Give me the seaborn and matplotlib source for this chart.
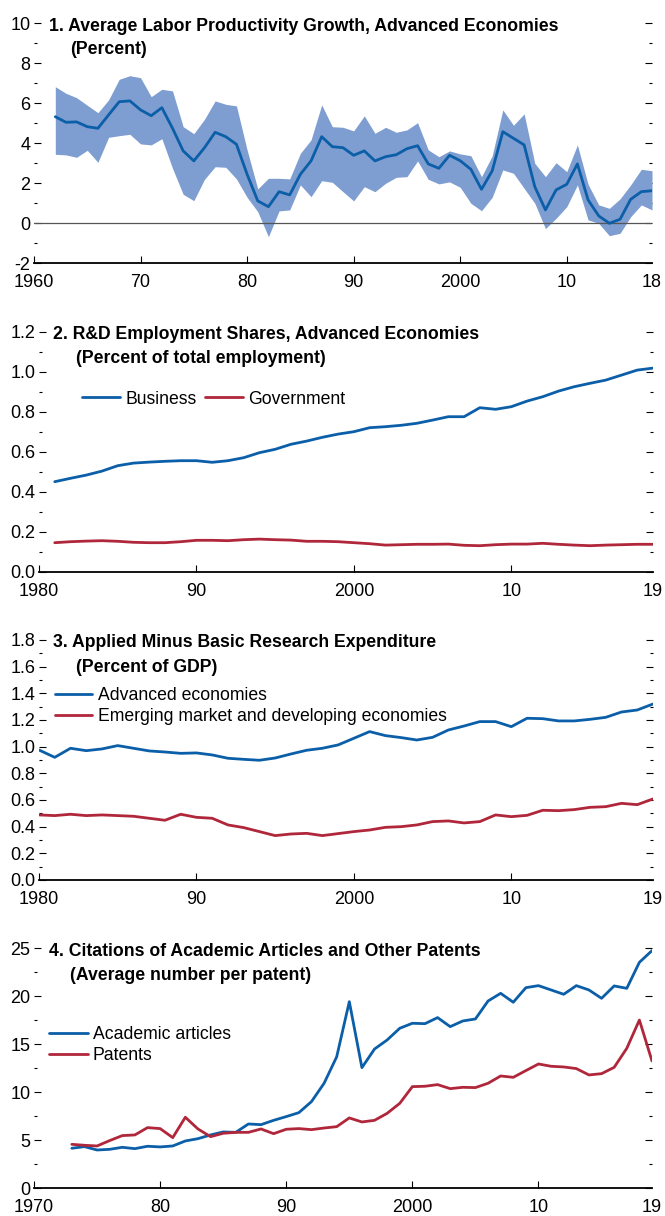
import numpy as np
import pandas as pd
import matplotlib
matplotlib.use("Agg")
import matplotlib.pyplot as plt
import seaborn as sns
from matplotlib import font_manager as fm
from matplotlib.ticker import MultipleLocator, FormatStrFormatter

# ---------------------------------------------------------------------------
# Data
# ---------------------------------------------------------------------------
# 1. Average labor productivity growth, advanced economies (percent)
prod_years = list(range(1962, 2019))
prod_mean = [5.33, 5.05, 5.07, 4.83, 4.75, 5.42, 6.08, 6.12, 5.67, 5.38,
             5.78, 4.75, 3.62, 3.12, 3.78, 4.55, 4.33, 3.95, 2.45, 1.12,
             0.83, 1.58, 1.42, 2.45, 3.12, 4.33, 3.83, 3.78, 3.40, 3.62,
             3.12, 3.33, 3.43, 3.73, 3.88, 2.97, 2.75, 3.40, 3.13, 2.70,
             1.70, 2.62, 4.58, 4.25, 3.92, 1.83, 0.67, 1.67, 1.95, 2.97,
             1.17, 0.37, 0.00, 0.20, 1.20, 1.58, 1.63]
prod_upper = [6.83, 6.50, 6.28, 5.90, 5.53, 6.17, 7.20, 7.38, 7.28, 6.33,
              6.70, 6.62, 4.83, 4.48, 5.20, 6.12, 5.95, 5.87, 3.67, 1.72,
              2.25, 2.25, 2.22, 3.50, 4.17, 5.92, 4.83, 4.80, 4.62, 5.37,
              4.50, 4.80, 4.55, 4.67, 5.03, 3.67, 3.33, 3.62, 3.47, 3.38,
              2.33, 3.37, 5.67, 4.90, 5.47, 3.00, 2.33, 3.03, 2.58, 3.92,
              1.95, 0.92, 0.75, 1.22, 1.92, 2.70, 2.63]
prod_lower = [3.45, 3.42, 3.30, 3.65, 3.05, 4.30, 4.38, 4.45, 3.97, 3.92,
              4.23, 2.75, 1.45, 1.13, 2.20, 2.83, 2.80, 2.22, 1.30, 0.58,
              -0.67, 0.62, 0.67, 1.92, 1.33, 2.13, 2.05, 1.58, 1.12, 1.83,
              1.58, 2.00, 2.30, 2.33, 3.12, 2.20, 1.97, 2.07, 1.80, 1.00,
              0.63, 1.30, 2.67, 2.50, 1.75, 1.00, -0.27, 0.25, 0.83, 1.92,
              0.17, 0.00, -0.62, -0.50, 0.33, 0.92, 0.67]

# 2. R&D employment shares, advanced economies (percent of total employment)
rd_years = list(range(1981, 2020))
rd_business = [0.450, 0.467, 0.483, 0.503, 0.530, 0.543, 0.548, 0.552, 0.555, 0.555,
               0.547, 0.555, 0.570, 0.595, 0.612, 0.637, 0.653, 0.672, 0.688, 0.700,
               0.720, 0.725, 0.732, 0.742, 0.758, 0.775, 0.775, 0.820, 0.812, 0.825,
               0.853, 0.875, 0.903, 0.925, 0.942, 0.958, 0.983, 1.008, 1.018]
rd_government = [0.145, 0.150, 0.153, 0.155, 0.152, 0.147, 0.145, 0.145, 0.150, 0.157,
                 0.157, 0.155, 0.160, 0.163, 0.160, 0.158, 0.152, 0.152, 0.150, 0.145,
                 0.140, 0.133, 0.135, 0.137, 0.137, 0.138, 0.132, 0.130, 0.135, 0.138,
                 0.138, 0.142, 0.137, 0.133, 0.130, 0.133, 0.135, 0.137, 0.137]

# 3. Applied minus basic research expenditure (percent of GDP)
res_years = list(range(1980, 2020))
res_advanced = [0.975, 0.920, 0.988, 0.970, 0.983, 1.008, 0.988, 0.968, 0.960, 0.950,
                0.953, 0.938, 0.913, 0.905, 0.898, 0.915, 0.945, 0.973, 0.988, 1.013,
                1.063, 1.113, 1.083, 1.068, 1.050, 1.070, 1.125, 1.155, 1.188, 1.188,
                1.150, 1.213, 1.210, 1.193, 1.193, 1.205, 1.220, 1.260, 1.275, 1.320]
res_emerging = [0.488, 0.483, 0.493, 0.483, 0.488, 0.483, 0.478, 0.463, 0.448, 0.493,
                0.470, 0.463, 0.413, 0.393, 0.363, 0.333, 0.345, 0.350, 0.333, 0.348,
                0.363, 0.375, 0.395, 0.400, 0.413, 0.438, 0.443, 0.428, 0.438, 0.488,
                0.475, 0.485, 0.523, 0.520, 0.528, 0.545, 0.550, 0.575, 0.565, 0.608]

# 4. Citations of academic articles and other patents (average number per patent)
cit_years = list(range(1973, 2020))
cit_academic = [4.17, 4.34, 3.99, 4.06, 4.27, 4.13, 4.38, 4.31, 4.41, 4.93,
                5.17, 5.56, 5.87, 5.83, 6.70, 6.63, 7.08, 7.47, 7.88, 9.03,
                10.94, 13.70, 19.44, 12.57, 14.51, 15.45, 16.67, 17.19, 17.15, 17.78,
                16.84, 17.43, 17.64, 19.51, 20.31, 19.38, 20.90, 21.11, 20.66, 20.21,
                21.11, 20.66, 19.79, 21.08, 20.83, 23.54, 24.76]
cit_patents = [4.58, 4.48, 4.41, 4.97, 5.49, 5.56, 6.32, 6.22, 5.28, 7.40,
               6.18, 5.38, 5.73, 5.83, 5.83, 6.18, 5.69, 6.15, 6.22, 6.11,
               6.28, 6.42, 7.33, 6.91, 7.08, 7.81, 8.85, 10.59, 10.63, 10.80,
               10.38, 10.52, 10.49, 10.94, 11.70, 11.56, 12.26, 12.95, 12.71, 12.64,
               12.47, 11.81, 11.94, 12.60, 14.58, 17.53, 13.26]

# Axis ticks and labels
p1_xticks, p1_xlabels = [1960, 1970, 1980, 1990, 2000, 2010, 2018], ["1960", "70", "80", "90", "2000", "10", "18"]
p23_xticks, p23_xlabels = [1980, 1990, 2000, 2010, 2019], ["1980", "90", "2000", "10", "19"]
p4_xticks, p4_xlabels = [1970, 1980, 1990, 2000, 2010, 2019], ["1970", "80", "90", "2000", "10", "19"]

# ---------------------------------------------------------------------------
# Style
# ---------------------------------------------------------------------------
BLUE = "#0B5EA8"
RED = "#B0263A"
BAND = "#7E9DD0"

sns.set_style("ticks")
available = {f.name for f in fm.fontManager.ttflist}
FONT = next(f for f in ["Liberation Sans Narrow", "Liberation Sans", "DejaVu Sans"]
            if f in available or f == "DejaVu Sans")
plt.rcParams["font.family"] = [FONT, "DejaVu Sans"]
plt.rcParams["axes.unicode_minus"] = True
plt.rcParams["text.color"] = "black"

TICK_FS = 13
TITLE_FS = 12.7
LEG_FS = 12.7

W, H = 665, 1216
fig = plt.figure(figsize=(W / 100, H / 100), dpi=100)
fig.patch.set_facecolor("white")


def px(x, y):
    return (x / W, 1 - y / H)


def add_axes(left, right, top, bottom):
    return fig.add_axes([left / W, 1 - bottom / H, (right - left) / W, (bottom - top) / H])


def style_axes(ax, xlim, ylim, xticks, xlabels, ymajor, yminor, yfmt):
    ax.set_xlim(xlim)
    ax.set_ylim(ylim)
    for side in ["left", "right", "top"]:
        ax.spines[side].set_visible(False)
    ax.spines["bottom"].set_linewidth(1.3)
    ax.spines["bottom"].set_color("black")
    ax.set_xticks(xticks)
    ax.set_xticklabels(xlabels)
    ax.yaxis.set_major_locator(MultipleLocator(ymajor))
    ax.yaxis.set_minor_locator(MultipleLocator(yminor))
    ax.yaxis.set_major_formatter(FormatStrFormatter(yfmt))
    ax.tick_params(axis="x", which="major", direction="in", length=5, width=0.8,
                   pad=8, labelsize=TICK_FS, colors="black")
    ax.tick_params(axis="x", which="minor", length=0)
    ax.tick_params(axis="y", which="both", direction="in", left=True, right=True,
                   labelleft=True, labelright=False, width=0.8, pad=2.5,
                   labelsize=TICK_FS, colors="black")
    ax.tick_params(axis="y", which="major", length=5)
    ax.tick_params(axis="y", which="minor", length=2)
    ax.xaxis.get_major_ticks()[-1].tick1line.set_visible(False)
    ax.set_xlabel("")
    ax.set_ylabel("")
    ax.set_facecolor("white")


def title(lines):
    for (x, y, s) in lines:
        fig.text(*px(x, y), s, fontsize=TITLE_FS, fontweight="bold",
                 ha="left", va="baseline", color="black")


def legend(ax, x, y, ncol, hl, tp, cs=0.5, ls=0.23):
    ax.legend(loc="center left", bbox_to_anchor=px(x, y), bbox_transform=fig.transFigure,
              frameon=False, ncol=ncol, borderpad=0, borderaxespad=0,
              handlelength=hl, handletextpad=tp, columnspacing=cs, labelspacing=ls,
              fontsize=LEG_FS, labelcolor="black")


LW = 2.0

# ---------------------------------------------------------------------------
# Panel 1
# ---------------------------------------------------------------------------
ax1 = add_axes(34, 652, 23.3, 263.3)
df1 = pd.DataFrame({"year": prod_years, "mean": prod_mean,
                    "upper": prod_upper, "lower": prod_lower})
ax1.fill_between(df1["year"], df1["lower"], df1["upper"], color=BAND, linewidth=0, zorder=1)
ax1.axhline(0, color="#555555", linewidth=0.9, zorder=2)
sns.lineplot(data=df1, x="year", y="mean", ax=ax1, color=BLUE, linewidth=LW, zorder=3)
style_axes(ax1, (1960, 2018), (-2, 10), p1_xticks, p1_xlabels, 2, 1, "%d")
title([(49, 30.7, "1. Average Labor Productivity Growth, Advanced Economies"),
       (70, 54.3, "(Percent)")])

# ---------------------------------------------------------------------------
# Panel 2
# ---------------------------------------------------------------------------
ax2 = add_axes(39, 653, 331.7, 571.7)
df2 = pd.DataFrame({"year": rd_years, "Business": rd_business, "Government": rd_government})
sns.lineplot(data=df2, x="year", y="Business", ax=ax2, color=BLUE, linewidth=LW, label="Business")
sns.lineplot(data=df2, x="year", y="Government", ax=ax2, color=RED, linewidth=LW, label="Government")
style_axes(ax2, (1980, 2019), (0, 1.2), p23_xticks, p23_xlabels, 0.2, 0.1, "%.1f")
legend(ax2, 82, 399, 2, 2.16, 0.28, cs=0.5)
title([(53, 339.3, "2. R&D Employment Shares, Advanced Economies"),
       (76, 362.7, "(Percent of total employment)")])

# ---------------------------------------------------------------------------
# Panel 3
# ---------------------------------------------------------------------------
ax3 = add_axes(39, 653, 640, 880)
df3 = pd.DataFrame({"year": res_years, "adv": res_advanced, "eme": res_emerging})
sns.lineplot(data=df3, x="year", y="adv", ax=ax3, color=BLUE, linewidth=LW,
             label="Advanced economies")
sns.lineplot(data=df3, x="year", y="eme", ax=ax3, color=RED, linewidth=LW,
             label="Emerging market and developing economies")
style_axes(ax3, (1980, 2019), (0, 1.8), p23_xticks, p23_xlabels, 0.2, 0.1, "%.1f")
legend(ax3, 55, 705.8, 1, 2.1, 0.34)
title([(53, 647.3, "3. Applied Minus Basic Research Expenditure"),
       (76, 671.7, "(Percent of GDP)")])

# ---------------------------------------------------------------------------
# Panel 4
# ---------------------------------------------------------------------------
ax4 = add_axes(34, 652, 948.3, 1188.3)
df4 = pd.DataFrame({"year": cit_years, "acad": cit_academic, "pat": cit_patents})
sns.lineplot(data=df4, x="year", y="acad", ax=ax4, color=BLUE, linewidth=LW,
             label="Academic articles")
sns.lineplot(data=df4, x="year", y="pat", ax=ax4, color=RED, linewidth=LW,
             label="Patents")
style_axes(ax4, (1970, 2019), (0, 25), p4_xticks, p4_xlabels, 5, 2.5, "%d")
legend(ax4, 49, 1044.8, 1, 2.2, 0.28)
title([(49, 956, "4. Citations of Academic Articles and Other Patents"),
       (70, 980, "(Average number per patent)")])

fig.savefig("out.png", dpi=100, facecolor="white")
